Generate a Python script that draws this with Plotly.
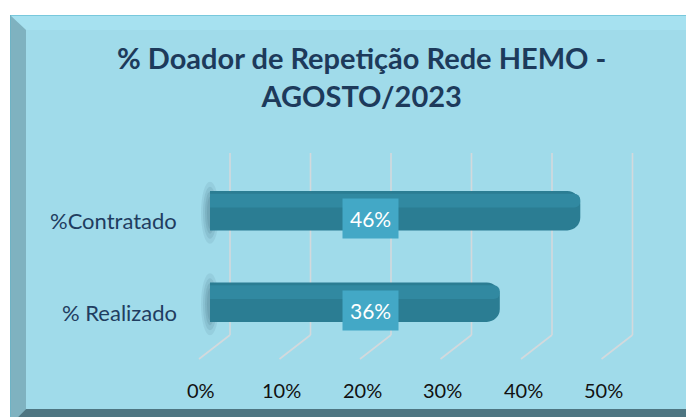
import plotly.graph_objects as go

# ---- data ----
categories = ["% Realizado", "%Contratado"]
values = [36, 46]
tick_values = [0, 10, 20, 30, 40, 50]
tick_labels = ["0%", "10%", "20%", "30%", "40%", "50%"]
title_text = "% Doador de Repetição Rede HEMO -<br>AGOSTO/2023"

OFF = 8            # browser body margin
W, H = 694 - OFF, 417 - OFF
FONT = "Lato"


def fx(p):
    return (p - OFF) / W


def fy(p):
    return 1 - (p - OFF) / H


PX_PER_UNIT = 8.05
X0_PX = 210
XMIN, XMAX = -3, 54
y_top_px, y_bot_px = 165, 348

fig = go.Figure()

# main bars
fig.add_trace(go.Bar(
    y=categories, x=values, orientation="h", width=0.43,
    marker=dict(color="#2b7d93", cornerradius=13, line=dict(width=0)),
    hoverinfo="skip", showlegend=False,
))
# light upper band
fig.add_trace(go.Bar(
    y=categories, x=values, orientation="h", width=0.15, offset=0.035,
    marker=dict(color="#3189a1", cornerradius=6, line=dict(width=0)),
    hoverinfo="skip", showlegend=False,
))

shapes = []
# frame
shapes.append(dict(type="path", xref="paper", yref="paper", layer="below",
                   path=f"M {fx(10)} {fy(15)} L {fx(694)} {fy(15)} L {fx(694)} {fy(417)} L {fx(10)} {fy(417)} Z",
                   fillcolor="#a0dbea", line=dict(width=0)))
shapes.append(dict(type="path", xref="paper", yref="paper", layer="below",
                   path=f"M {fx(10)} {fy(15)} L {fx(694)} {fy(15)} L {fx(694)} {fy(23)} L {fx(687)} {fy(30)} L {fx(26)} {fy(30)} Z",
                   fillcolor="#a6e1f0", line=dict(width=0)))
shapes.append(dict(type="path", xref="paper", yref="paper", layer="below",
                   path=f"M {fx(10)} {fy(15)} L {fx(26)} {fy(30)} L {fx(26)} {fy(409)} L {fx(18)} {fy(417)} L {fx(10)} {fy(417)} Z",
                   fillcolor="#7fb2c0", line=dict(width=0)))
shapes.append(dict(type="path", xref="paper", yref="paper", layer="below",
                   path=f"M {fx(687)} {fy(30)} L {fx(694)} {fy(23)} L {fx(694)} {fy(417)} L {fx(687)} {fy(409)} Z",
                   fillcolor="#557e89", line=dict(width=0)))
shapes.append(dict(type="path", xref="paper", yref="paper", layer="below",
                   path=f"M {fx(26)} {fy(409)} L {fx(687)} {fy(409)} L {fx(694)} {fy(417)} L {fx(18)} {fy(417)} Z",
                   fillcolor="#4e7682", line=dict(width=0)))
shapes.append(dict(type="line", xref="paper", yref="paper", layer="below",
                   x0=fx(10), x1=fx(694), y0=fy(15.5), y1=fy(15.5),
                   line=dict(color="#78c8dc", width=1)))
shapes.append(dict(type="line", xref="paper", yref="paper", layer="below",
                   x0=fx(10.5), x1=fx(10.5), y0=fy(15), y1=fy(417),
                   line=dict(color="#6eb3c5", width=1)))

# 3D-looking gridlines anchored to tick values
for v in tick_values:
    shapes.append(dict(type="line", xref="x", xsizemode="pixel", xanchor=v,
                       yref="paper", layer="below",
                       x0=20, x1=20, y0=fy(153), y1=fy(335),
                       line=dict(color="#d3d9dc", width=1.6)))
    shapes.append(dict(type="line", xref="x", xsizemode="pixel", xanchor=v,
                       yref="paper", layer="below",
                       x0=20, x1=-11, y0=fy(335), y1=fy(359),
                       line=dict(color="#d3d9dc", width=1.6)))

# soft blurred shadow at bar bases (stacked faint ellipses)
for c in categories:
    for (hx, hy, a) in [(9, 31, 0.10), (7, 26, 0.12), (5, 21, 0.14), (3, 16, 0.14)]:
        shapes.append(dict(type="circle", xref="x", xsizemode="pixel", xanchor=0,
                           yref="y", ysizemode="pixel", yanchor=c, layer="below",
                           x0=-hx, x1=hx, y0=-hy - 2, y1=hy - 2,
                           fillcolor=f"rgba(60,100,115,{a})", line=dict(width=0)))

annotations = []
# title
annotations.append(dict(text=f"<b>{title_text}</b>", xref="paper", yref="paper",
                        x=fx(361), y=fy(77), xanchor="center", yanchor="middle",
                        showarrow=False, align="center",
                        font=dict(family=FONT, size=29, color="#1d3a5b")))
# tick labels (front plane)
for v, t in zip(tick_values, tick_labels):
    annotations.append(dict(text=t, xref="x", yref="paper", x=v, xshift=-9,
                            y=fy(390), xanchor="center", yanchor="middle",
                            showarrow=False, font=dict(family=FONT, size=20, color="#111111")))
# category labels
for c in categories:
    annotations.append(dict(text=c, xref="paper", yref="y", x=fx(179), y=c, yshift=-10,
                            xanchor="right", yanchor="middle", showarrow=False,
                            font=dict(family=FONT, size=22, color="#1f3d60")))
# data labels
for c, v in zip(categories, values):
    annotations.append(dict(text=f"{v}%", xref="paper", yref="y", x=fx(370.5), y=c, yshift=-8,
                            xanchor="center", yanchor="middle", showarrow=False,
                            bgcolor="#43a8c6", borderpad=7,
                            font=dict(family=FONT, size=21, color="#ffffff")))

fig.update_layout(
    width=W, height=H,
    margin=dict(l=0, r=0, t=0, b=0),
    paper_bgcolor="#ffffff", plot_bgcolor="rgba(0,0,0,0)",
    barmode="overlay",
    xaxis=dict(domain=[fx(X0_PX + XMIN * PX_PER_UNIT), fx(X0_PX + XMAX * PX_PER_UNIT)],
               range=[XMIN, XMAX], showgrid=False,
               zeroline=False, showticklabels=False, ticks="", fixedrange=True),
    yaxis=dict(domain=[fy(y_bot_px), fy(y_top_px)], range=[-0.5, 1.5],
               type="category", categoryorder="array", categoryarray=categories,
               showgrid=False, zeroline=False, showticklabels=False, ticks="", fixedrange=True),
    shapes=shapes,
    annotations=annotations,
    showlegend=False,
)

fig.write_html("out.html")
